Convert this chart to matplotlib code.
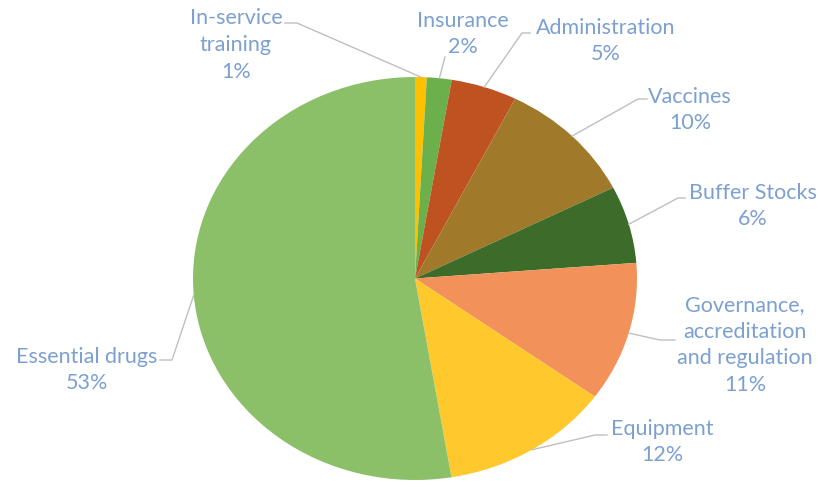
import numpy as np
import matplotlib.pyplot as plt
from matplotlib.lines import Line2D

W, H = 818, 487

categories = ['In-service\ntraining', 'Insurance', 'Administration', 'Vaccines',
              'Buffer Stocks', 'Governance,\naccreditation\nand regulation',
              'Equipment', 'Essential drugs']
shares = [0.85, 1.8, 4.8, 10.1, 6.2, 11.2, 12.4, 52.6]
colors = ['#FFC000', '#6BB04A', '#BE5220', '#A07A2A', '#3D6B2A',
          '#F2925A', '#FFC92E', '#8CC068']

# label block centre (image px) and leader path start (image px)
label_pos = [(236, 45), (463, 34), (606, 41), (690, 110), (753, 206),
             (745, 345), (662, 442), (87, 370)]
leader_start = [[(285, 23), (297, 23)], [(445, 57)], [(530, 33), (522, 33)],
                [(647, 99), (638, 99)], [(685, 198), (678, 198)],
                [(675, 340), (660, 340)], [(607, 435), (595, 435)],
                [(160, 360), (172, 360)]]

text_color = '#7CA0D0'
line_color = '#BFBFBF'
plt.rcParams['font.family'] = ['Lato', 'DejaVu Sans']

fig = plt.figure(figsize=(W / 100, H / 100), dpi=100)
ax = fig.add_axes([193 / W, (H - 480) / H, 444 / W, 403 / H])
wedges, _ = ax.pie(shares, colors=colors, startangle=90, counterclock=False,
                   wedgeprops=dict(linewidth=0))
ax.set_aspect('auto')
ax.set_xlim(-1, 1)
ax.set_ylim(-1, 1)

for i, w in enumerate(wedges):
    mid = np.deg2rad((w.theta1 + w.theta2) / 2)
    px, py = ax.transData.transform((np.cos(mid), np.sin(mid)))
    xs = [p[0] for p in leader_start[i]] + [px]
    ys = [H - p[1] for p in leader_start[i]] + [py]
    fig.add_artist(Line2D(xs, ys, transform=None, color=line_color, lw=1.0))
    lx, ly = label_pos[i]
    fig.text(lx / W, 1 - ly / H, f'{categories[i]}\n{round(shares[i])}%',
             ha='center', va='center', color=text_color, fontsize=15.5,
             linespacing=1.42, multialignment='center')

fig.savefig('out.png', dpi=100)
